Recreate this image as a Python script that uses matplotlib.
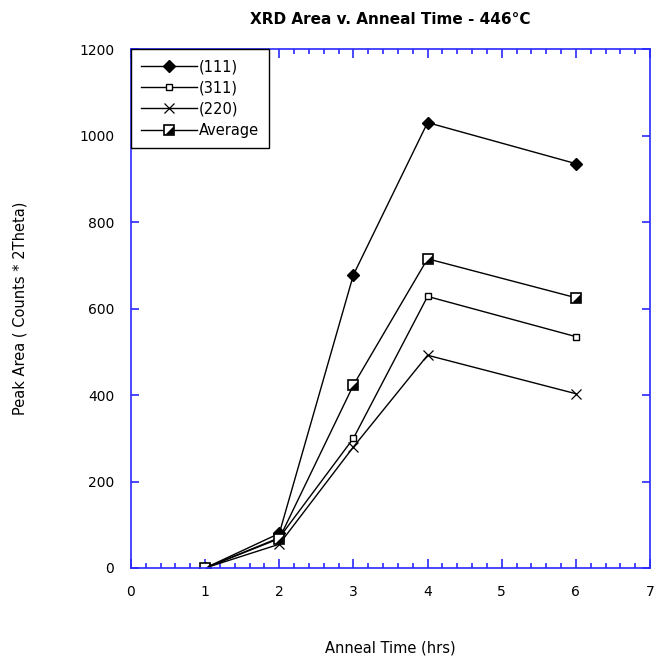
import matplotlib
matplotlib.use("Agg")
import matplotlib.pyplot as plt
from matplotlib.ticker import MultipleLocator
from matplotlib.legend_handler import HandlerTuple

plt.rcParams['font.family'] = ['DejaVu Sans']

hours = [1, 2, 3, 4, 6]
s111 = [0, 80, 678, 1030, 935]
s311 = [0, 70, 300, 628, 535]
s220 = [0, 55, 280, 492, 403]
avg = [0, 68, 423, 715, 625]
labels = ['(111)', '(311)', '(220)', 'Average']

fig = plt.figure(figsize=(6.54, 6.63), dpi=100)
ax = fig.add_axes([0.2003, 0.1433, 0.7936, 0.7827])

blue = '#2a2aff'
l1, = ax.plot(hours, s111, '-', color='black', lw=1, marker='D', ms=6.5,
              mfc='black', mec='black')
l2, = ax.plot(hours, s311, '-', color='black', lw=1, marker='s', ms=4,
              mfc='white', mec='black', mew=1)
l3, = ax.plot(hours, s220, '-', color='black', lw=1, marker='x', ms=6.5,
              mec='black', mew=0.9)
l4, = ax.plot(hours, avg, '-', color='black', lw=1, marker='s', ms=7,
              mfc='white', mec='black', mew=1.2)
tri = [(1, -1), (1, 1), (-1, -1), (1, -1)]
l4b, = ax.plot(hours, avg, ls='none', marker=tri, ms=6.2, mfc='black',
               mec='black', mew=0)

ax.set_xlim(0, 7)
ax.set_ylim(0, 1200)
ax.xaxis.set_major_locator(MultipleLocator(1))
ax.xaxis.set_minor_locator(MultipleLocator(0.2))
ax.yaxis.set_major_locator(MultipleLocator(200))

for sp in ax.spines.values():
    sp.set_color(blue)
    sp.set_linewidth(1.2)
ax.tick_params(axis='both', which='both', direction='in', colors=blue,
               labelcolor='black', labelsize=10, top=True, right=True)
ax.tick_params(axis='x', which='major', length=6.5, width=1.2, pad=12)
ax.tick_params(axis='x', which='minor', length=3.5, width=1.2)
ax.tick_params(axis='y', which='major', length=6, width=1.2, pad=12)

ax.set_title('XRD Area v. Anneal Time - 446\u00b0C', fontsize=11,
             fontweight='bold', pad=18)
ax.set_xlabel('Anneal Time (hrs)', fontsize=10.5, labelpad=30)
ax.set_ylabel('Peak Area ( Counts * 2Theta)', fontsize=10.5, labelpad=37)

leg = ax.legend([l1, l2, l3, (l4, l4b)], labels,
                handler_map={tuple: HandlerTuple(ndivide=1, pad=0)},
                loc='upper left', bbox_to_anchor=(0, 1), borderaxespad=0,
                fancybox=False, framealpha=1, edgecolor='black',
                fontsize=10.5, handlelength=3.8, handletextpad=0.15,
                labelspacing=0.42, borderpad=0.7)
leg.get_frame().set_linewidth(1)

fig.savefig('out.png', dpi=100, facecolor='white')
